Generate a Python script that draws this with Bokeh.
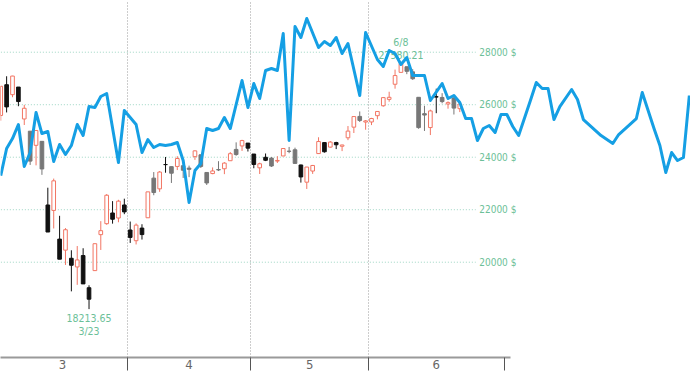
import numpy as np
import pandas as pd
from bokeh.plotting import figure
from bokeh.models import FixedTicker
from bokeh.core.properties import value
from bokeh.embed import file_html
from bokeh.resources import INLINE

# ---------------- data ----------------
# trading days 2020-03-02 .. 2020-06-22 (Good Friday and Memorial Day closed)
days = pd.bdate_range("2020-03-02", "2020-06-22")
days = days[~days.isin(pd.to_datetime(["2020-04-10", "2020-05-25"]))]
day_labels = [f"{d.month}/{d.day}" for d in days]

opens = [25590, 26762, 26383, 26672, 25457, 24992, 24453, 24604, 22180, 21973,
         20880, 20460, 20150, 19820, 20253, 19028, 19680, 21050, 21468, 21875,
         21684, 22180,
         21227, 20819, 21300, 21693, 23203, 22794, 23720, 23641, 23648, 23676,
         23585, 24022, 24092, 23419, 23377, 23530, 23561, 23866, 24297, 24430,
         24538,
         24121, 23596, 23997, 23966, 23853, 24047, 24230, 24283, 23704, 23049,
         23473, 24139, 24557, 24385, 24558, 24418, 24740, 25145, 25555, 25340,
         25343, 25582, 25960, 26203, 26780, 27232, 27447, 27251, 26282, 25659,
         25130, 26308, 26277, 26027, 26255, 25848]
highs = [26706, 27084, 27102, 26672, 25994, 24992, 25021, 24604, 22838, 23186,
         21768, 21300, 20455, 20616, 20532, 19121, 20705, 21564, 22595, 22327,
         22378, 22420,
         21549, 21478, 21447, 22680, 23434, 23474, 24009, 23641, 24039, 23676,
         23680, 24264, 24092, 23421, 23611, 23849, 23813, 24199, 24566, 24664,
         24538,
         24121, 23792, 24142, 24009, 24040, 24345, 24392, 24364, 23716, 23631,
         23706, 24760, 24569, 24617, 24588, 24476, 25187, 25548, 25744, 25417,
         25500, 25743, 26294, 26494, 27338, 27580.21, 27447, 27355, 26282, 25960,
         25812, 26611, 26440, 26128, 26380, 26036]
lows = [25392, 25706, 26286, 25943, 25227, 23706, 23690, 23328, 21154, 21285,
        20116, 19896, 18890, 19138, 19174, 18213.65, 19680, 20467, 21427, 21469,
        21522, 21830,
        20735, 20676, 20863, 21693, 22552, 22681, 23409, 23019, 23510, 23209,
        23241, 23898, 23589, 22942, 23352, 23473, 23355, 23866, 24055, 24239,
        24217,
        23579, 23361, 23852, 23628, 23780, 24047, 24152, 23764, 23033, 22790,
        23364, 24140, 24174, 24370, 24309, 24232, 24650, 24922, 25342, 25047,
        25224, 25442, 25924, 26115, 26611, 27233, 27163, 26944, 25083, 25000,
        24844, 25677, 26053, 25848, 25626, 25719]
closes = [26703, 25917, 27091, 26121, 25865, 23851, 25018, 23553, 21150, 23100,
          20115, 21237, 19884, 20087, 19174, 18592, 20705, 21201, 22552, 21637,
          22327, 21917,
          20944, 21413, 21053, 22680, 22654, 23434, 23719, 23391, 23950, 23504,
          23538, 24242, 23650, 23019, 23476, 23515, 23775, 24134, 24102, 24634,
          24346,
          23724, 23750, 23883, 23665, 23876, 24331, 24222, 23765, 23248, 23625,
          23685, 24597, 24207, 24576, 24474, 24465, 24995, 25548, 25401, 25383,
          25475, 25743, 26270, 26282, 27111, 27572, 27272, 26990, 25128, 25606,
          25763, 26290, 26120, 26080, 25871, 26025]
# falling days that the chart draws in grey rather than black
grey_days = [5, 7, 26, 29, 31, 32, 34, 35, 37, 40, 46, 49, 50, 61, 69, 70, 71,
             72, 75, 77]

# blue comparison line: (trading-day index, value)
blue_x = [0, 1, 2, 3, 4, 5, 6, 7, 8, 9, 10, 11, 12, 13, 14, 15, 16, 17, 18, 20,
          21, 23, 24, 25, 26, 27, 28, 29, 30, 31, 32, 33, 34, 35, 36, 37, 38, 39,
          41, 42, 43, 44, 45, 46, 47, 48, 49, 50, 51, 52, 54, 55, 56, 57, 58, 59,
          61, 62, 64, 65, 66, 67, 68, 69, 70, 72, 73, 75, 76, 77, 78, 79, 80, 81,
          82, 83, 84, 85, 86, 87, 88, 90, 91, 92, 93, 94, 95, 97, 98, 99, 102,
          104, 105, 108, 109, 111, 112, 113, 114, 115, 116, 117]
blue_v = [23300, 24330, 24710, 25245, 23645, 24179, 25703, 24902, 24979, 23836,
          24483, 24102, 24445, 25245, 24826, 25931, 25893, 26312, 26426, 23798,
          25779, 25245, 24179, 24674, 24369, 24483, 24445, 24483, 24560, 23874,
          22274, 23493, 23759, 25093, 25017, 25093, 25512, 25093,
          26922, 25893, 26807, 26236, 27303, 27379, 27303, 28712, 24636, 28979,
          28560, 29284, 28179, 28408, 28255, 28560, 27950, 28331,
          26350, 28751, 27722, 27455, 28065, 27950, 27531, 27798, 27112, 27112,
          26160, 26807, 26236, 26350, 26084, 25474, 25474, 24636,
          25093, 25207, 24941, 25626, 25626, 25169, 24826, 26160, 26846, 26617,
          26617, 25436, 25931, 26579, 26198, 25436, 24823,
          24521, 24864, 25474, 26465, 25093, 24445, 23417, 24179, 23874, 23988,
          26350]

y_ticks = [20000, 22000, 24000, 26000, 28000]
y_tick_labels = [f"{v} $" for v in y_ticks]

month_labels = ["3", "4", "5", "6"]
month_mid = [10.5, 32, 52.5, 74]
month_edges = [21.5, 42.5, 62.5, 85.6]

# ---------------- figure ----------------
p = figure(width=690, height=375, x_range=(-0.04, 117.2), y_range=(16370, 29970),
           output_backend="svg", toolbar_location=None, y_axis_location=None,
           min_border_left=0, min_border_right=0, min_border_top=0,
           min_border_bottom=18, outline_line_color=None,
           background_fill_color="white", border_fill_color="white")

p.ygrid.grid_line_color = None
p.xgrid.ticker = FixedTicker(ticks=month_edges[:3])
p.xgrid.grid_line_color = "#9a9a9a"
p.xgrid.grid_line_dash = "1 2"
p.xgrid.grid_line_width = 1

NARROW = "'DejaVu Sans Condensed', 'Liberation Sans Narrow', sans-serif"

ax = p.xaxis[0]
ax.ticker = FixedTicker(ticks=month_mid, minor_ticks=month_edges)
ax.major_label_overrides = {m: lab for m, lab in zip(month_mid, month_labels)}
ax.major_tick_out = 0
ax.major_tick_in = 0
ax.minor_tick_out = 13
ax.minor_tick_in = 0
ax.minor_tick_line_color = "#555555"
ax.axis_line_color = "#9a9a9a"
ax.axis_line_width = 2
ax.major_label_standoff = -11
ax.major_label_text_font = NARROW
ax.major_label_text_font_size = "13px"
ax.major_label_text_color = "#666666"
ax.bounds = (-1, 86.6)

n = len(opens)
x = np.arange(n)
o = np.array(opens, float)
h = np.array(highs, float)
l = np.array(lows, float)
c = np.array(closes, float)
up = c >= o
RED = "#f27563"
line_col = []
fill_col = []
for i in range(n):
    if up[i]:
        line_col.append(RED)
        fill_col.append("white")
    elif i in grey_days:
        line_col.append("#777777")
        fill_col.append("#777777")
    else:
        line_col.append("#111111")
        fill_col.append("#111111")

# horizontal dotted guides with price labels
grid_end = 80.7
p.segment(x0=[-1] * len(y_ticks), y0=y_ticks, x1=[grid_end] * len(y_ticks),
          y1=y_ticks, line_color="#9dd5c3", line_dash="1 2", line_width=1)
p.text(x=[grid_end + 0.6] * len(y_ticks), y=y_ticks, text=y_tick_labels,
       text_font=value(NARROW), text_font_size="10px", text_color="#6cbf98",
       text_baseline="middle", text_align="left")

# candles
p.segment(x0=x, y0=h, x1=x, y1=l, line_color=line_col, line_width=1)
p.vbar(x=x, width=0.62, top=np.maximum(o, c), bottom=np.minimum(o, c),
       fill_color=fill_col, line_color=line_col, line_width=1)

# extreme annotations
i_lo = int(np.argmin(l))
i_hi = int(np.argmax(h))
GREEN = "#6cbf98"
p.text(x=[i_lo], y=[l[i_lo]], text=[f"{lows[i_lo]:.2f}"], y_offset=5,
       text_font=value(NARROW), text_font_size="10.5px", text_color=GREEN,
       text_align="center", text_baseline="top")
p.text(x=[i_lo], y=[l[i_lo]], text=[day_labels[i_lo]], y_offset=16,
       text_font=value(NARROW), text_font_size="10.5px", text_color=GREEN,
       text_align="center", text_baseline="top")
p.text(x=[i_hi], y=[h[i_hi]], text=[f"{highs[i_hi]:.2f}"], y_offset=-4,
       text_font=value(NARROW), text_font_size="10.5px", text_color=GREEN,
       text_align="center", text_baseline="bottom")
p.text(x=[i_hi], y=[h[i_hi]], text=[day_labels[i_hi]], y_offset=-15,
       text_font=value(NARROW), text_font_size="10.5px", text_color=GREEN,
       text_align="center", text_baseline="bottom")

# blue line on top
p.line(blue_x, blue_v, line_color="#159fe4", line_width=3, line_join="round")

open("out.html", "w").write(file_html(p, INLINE))
